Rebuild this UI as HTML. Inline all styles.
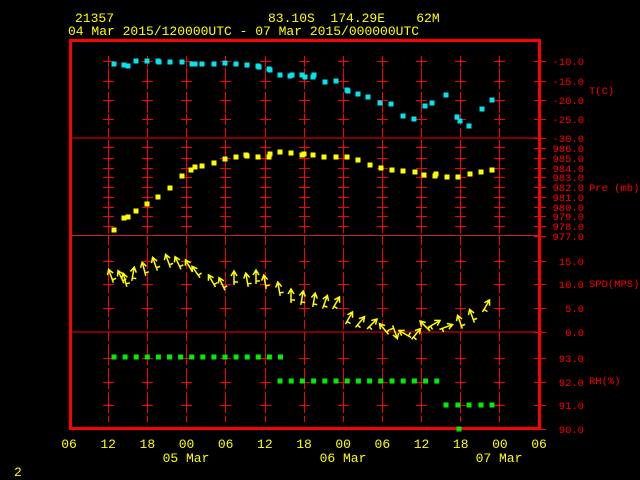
<!DOCTYPE html>
<html><head><meta charset="utf-8"><style>
html,body{margin:0;padding:0;background:#000;width:640px;height:480px;overflow:hidden}
svg{display:block}
text{font-family:"Liberation Mono","DejaVu Sans Mono",monospace;font-size:13px;white-space:pre}
#rl text{font-size:10.5px}
</style></head><body>
<svg id="s" width="640" height="480" xmlns="http://www.w3.org/2000/svg" xml:space="preserve">
<rect width="640" height="480" fill="#000"/>
<g fill="#ffff00">
<text x="75" y="22">21357</text>
<text x="268" y="22">83.10S  174.29E    62M</text>
<text x="68" y="35">04 Mar 2015/120000UTC - 07 Mar 2015/000000UTC</text>
<text x="14" y="476">2</text>
</g>
<g id="grid" stroke="#ff0000" stroke-width="1"></g>
<g fill="none" stroke="#ff0000">
<rect x="70.5" y="40.5" width="469" height="388" stroke-width="3"/>
<line x1="70" y1="138" x2="540" y2="138"/>
<line x1="70" y1="235.5" x2="540" y2="235.5" stroke="#cc2020"/>
<line x1="70" y1="332" x2="540" y2="332"/>
</g>
<g id="rl" fill="#ff0000"></g>
<g id="xl" fill="#ffff00"></g>
<g id="d"></g>
</svg>
<script>
var NS="http://www.w3.org/2000/svg";
function el(p,t,a,tx){var e=document.createElementNS(NS,t);for(var k in a)e.setAttribute(k,a[k]);if(tx!==undefined)e.textContent=tx;document.getElementById(p).appendChild(e);return e;}
var gx=[108,147,186,225,265,304,343,382,421,460,499];
var ticks=[61,81,100,119,147,158,168,177,187,197,207,216,226,261,284,308,358,382,405];
gx.forEach(function(x){
  el("grid","line",{x1:x+.5,y1:56,x2:x+.5,y2:422,"stroke-dasharray":"9,3"});
  ticks.forEach(function(y){el("grid","line",{x1:x-5,y1:y+.5,x2:x+6,y2:y+.5});el("grid","line",{x1:x+.5,y1:y-5,x2:x+.5,y2:y+6});});
});
var rl=[["-10.0",61],["-15.0",81],["-20.0",100],["-25.0",119],["-30.0",138],["986.0",148],["985.0",158],["984.0",168],["983.0",177],["982.0",187],["981.0",197],["980.0",207],["979.0",216],["978.0",226],["977.0",236],["15.0",261],["10.0",284],["5.0",308],["0.0",332],["93.0",358],["92.0",382],["91.0",405],["90.0",429]];
rl.forEach(function(r){
  el("grid","line",{x1:534,y1:r[1]+.5,x2:546,y2:r[1]+.5});
  el("rl","text",{x:584,y:r[1]+4,"text-anchor":"end"},r[0]);
});
el("rl","text",{x:589,y:94},"T(C)");
el("rl","text",{x:589,y:191},"Pre (mb)");
el("rl","text",{x:589,y:287},"SPD(MPS)");
el("rl","text",{x:589,y:384},"RH(%)");
var xl=["06","12","18","00","06","12","18","00","06","12","18","00","06"];
xl.forEach(function(t,i){el("xl","text",{x:69+i*39.17,y:448,"text-anchor":"middle"},t);});
el("xl","text",{x:186,y:462,"text-anchor":"middle"},"05 Mar");
el("xl","text",{x:343,y:462,"text-anchor":"middle"},"06 Mar");
el("xl","text",{x:499,y:462,"text-anchor":"middle"},"07 Mar");
function sq(pts,c,s){pts.forEach(function(p){el("d","rect",{x:p[0]-s/2,y:p[1]-s/2,width:s,height:s,fill:c});});}
sq([[114,64],[124,65],[128,66],[136,61],[147,61],[158,61],[159,62],[170,62],[182,62],[192,64],[195,64],[202,64],[214,64],[225,63],[236,64],[247,65],[258,66],[259,67],[269,69],[270,70],[280,75],[290,76],[292,75],[302,75],[305,77],[313,77],[314,75],[325,82],[336,81],[347,90],[348,91],[358,94],[368,97],[380,103],[391,104],[403,116],[414,119],[425,106],[432,103],[446,95],[457,117],[460,121],[469,126],[482,109],[492,100]],"#00e5ee",5);
sq([[114,230],[124,218],[128,217],[136,211],[147,204],[158,197],[170,188],[182,176],[191,170],[195,167],[202,166],[214,163],[225,159],[236,157],[246,155],[247,156],[258,157],[269,157],[270,154],[280,152],[291,153],[302,155],[304,154],[313,155],[324,157],[336,157],[347,157],[358,160],[370,165],[381,168],[392,170],[403,171],[415,172],[424,175],[435,176],[436,174],[447,177],[458,177],[470,174],[481,172],[492,170]],"#ffff00",5);
var g=[];for(var x=114;x<=282;x+=11.1)g.push([x,357]);
for(var x=280;x<=438;x+=11.2)g.push([x,381]);
[446,458,469,481,492].forEach(function(x){g.push([x,405]);});
g.push([459,429]);
sq(g,"#00ee00",5);
var w=[[111,272,-20],[121,273,-25],[125,276,-15],[133,270,10],[144,265,-15],[155,260,-20],[168,257,-20],[178,259,-25],[189,262,-30],[196,268,-35],[212,277,-30],[222,280,-25],[234,274,0],[247,276,-10],[256,273,0],[265,278,-10],[279,285,-10],[291,292,0],[302,294,10],[314,296,10],[325,298,20],[336,299,30],[349,314,30],[360,318,40],[372,320,45],[384,325,-40],[395,328,160],[405,330,-60],[416,330,40],[425,322,-45],[434,320,60],[446,323,70],[460,318,-20],[472,312,-20],[486,302,30]];
w.forEach(function(a){
  var r=a[2]*Math.PI/180,L=14,dx=Math.sin(r),dy=-Math.cos(r);
  var x0=a[0]+ -dx*L/2, y0=a[1]+ -dy*L/2+4, x1=x0+dx*L, y1=y0+dy*L;
  var px=-dy,py=dx;
  var d="M"+x0+","+y0+"L"+x1+","+y1+"M"+(x1-dx*5+px*3)+","+(y1-dy*5+py*3)+"L"+x1+","+y1+"L"+(x1-dx*5-px*3)+","+(y1-dy*5-py*3)+"M"+(x0+dx*3)+","+(y0+dy*3)+"L"+(x0+dx*3+px*4)+","+(y0+dy*3+py*4);
  el("d","path",{d:d,stroke:"#ffff00","stroke-width":1.5,fill:"none"});
});
</script>
</body></html>
